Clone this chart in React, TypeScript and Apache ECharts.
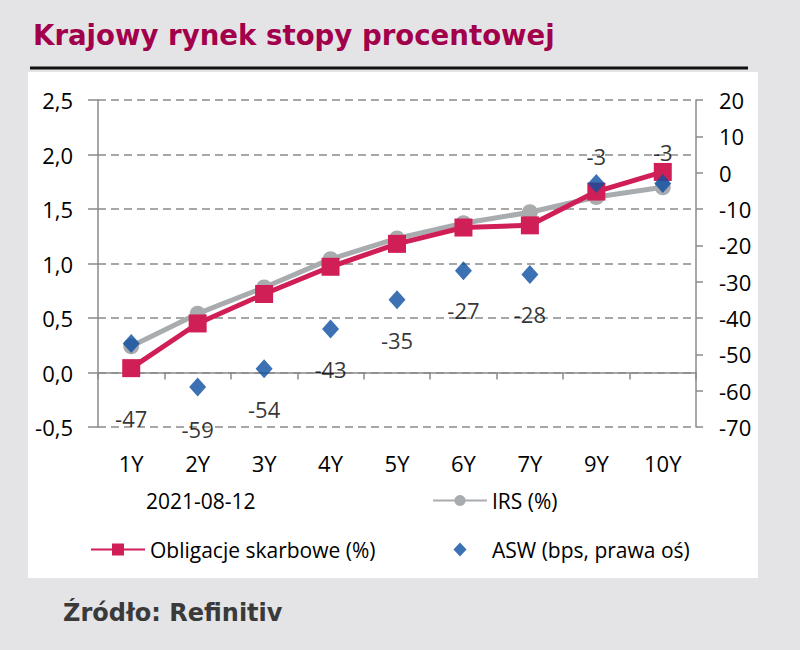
import React, { useEffect, useRef } from 'react';
import * as echarts from 'echarts';

const titleText = 'Krajowy rynek stopy procentowej';
const sourceText = 'Źródło: Refinitiv';
const dateLabel = '2021-08-12';
const categories = ['1Y', '2Y', '3Y', '4Y', '5Y', '6Y', '7Y', '9Y', '10Y'];
const irsName = 'IRS (%)';
const irs = [0.24, 0.54, 0.78, 1.04, 1.23, 1.37, 1.47, 1.61, 1.7];
const bondsName = 'Obligacje skarbowe (%)';
const bonds = [0.04, 0.45, 0.72, 0.97, 1.18, 1.33, 1.35, 1.66, 1.84];
const aswName = 'ASW (bps, prawa oś)';
const asw = [-47, -59, -54, -43, -35, -27, -28, -3, -3];

// label placement for ASW points (style only)
const aswLabelPos: Array<[string, number]> = [
  ['bottom', 54],
  ['bottom', 21],
  ['bottom', 20],
  ['bottom', 20],
  ['bottom', 20],
  ['bottom', 19],
  ['bottom', 19],
  ['top', 7],
  ['top', 11],
];

const FONT = '"Open Sans", "Noto Sans", sans-serif';
const RED = '#d01f57';
const GRAY = '#a9acae';
const BLUE = '#0b4ea1';
const AXIS = '#8a8a8a';

export default function App() {
  const ref = useRef<HTMLDivElement>(null);
  useEffect(() => {
    document.body.style.margin = '0';
    const chart = echarts.init(ref.current!, undefined, { renderer: 'svg' });
    const legendText = { color: '#000', fontSize: 21, fontFamily: FONT };
    chart.setOption({
      animation: false,
      backgroundColor: '#e4e4e6',
      title: [
        {
          text: titleText,
          left: 28,
          top: 16,
          textStyle: { color: '#a3004b', fontSize: 27.6, fontWeight: 'bold', fontFamily: '"DejaVu Sans", sans-serif' },
        },
        {
          text: sourceText,
          left: 58,
          top: 596,
          textStyle: { color: '#3a3a3a', fontSize: 24, fontWeight: 'bold', fontFamily: '"DejaVu Sans", sans-serif' },
        },
      ],
      graphic: [
        { type: 'rect', z: -10, shape: { x: 28, y: 72, width: 730, height: 506 }, style: { fill: '#ffffff' } },
        { type: 'line', z: -10, shape: { x1: 30, y1: 68, x2: 748, y2: 68 }, style: { stroke: '#111', lineWidth: 3 } },
      ],
      legend: [
        {
          data: [{ name: dateLabel, icon: 'none' }],
          left: 82, top: 485, itemWidth: 54, itemHeight: 14, itemGap: 0,
          textStyle: legendText, selectedMode: false,
        },
        {
          data: [irsName],
          left: 427, top: 485, itemWidth: 54, itemHeight: 14, itemGap: 0,
          textStyle: legendText, selectedMode: false,
        },
        {
          data: [bondsName],
          left: 85, top: 534, itemWidth: 54, itemHeight: 15, itemGap: 0,
          textStyle: legendText, selectedMode: false,
        },
        {
          data: [{ name: aswName, icon: 'path://M0,0M54,14M27,0L33.5,7L27,14L20.5,7Z' }],
          left: 428, top: 534, itemWidth: 54, itemHeight: 14, itemGap: 0,
          textStyle: legendText, selectedMode: false,
        },
      ],
      grid: { left: 98, right: 104, top: 100, bottom: 223, containLabel: false },
      xAxis: [
        {
          type: 'category',
          data: categories,
          boundaryGap: true,
          position: 'bottom',
          axisLine: { show: true, onZero: true, onZeroAxisIndex: 0, lineStyle: { color: AXIS, width: 1.5 } },
          axisTick: { show: true, inside: false, length: 7, lineStyle: { color: AXIS, width: 1.5 } },
          axisLabel: { show: false },
          splitLine: { show: false },
        },
        {
          type: 'category',
          data: categories,
          boundaryGap: true,
          position: 'bottom',
          axisLine: { show: false, onZero: false },
          axisTick: { show: false },
          axisLabel: { show: true, margin: 25, color: '#000', fontSize: 22, fontFamily: FONT },
          splitLine: { show: false },
        },
      ],
      yAxis: [
        {
          type: 'value',
          min: -0.5,
          max: 2.5,
          interval: 0.5,
          position: 'left',
          axisLine: { show: true, lineStyle: { color: AXIS, width: 1.5 } },
          axisTick: { show: true, length: 10, lineStyle: { color: AXIS, width: 1.5 } },
          axisLabel: {
            margin: 25,
            color: '#000',
            fontSize: 22,
            fontFamily: FONT,
            formatter: (v: number) => v.toFixed(1).replace('.', ','),
          },
          splitLine: { show: true, lineStyle: { color: AXIS, width: 1.5, type: [8, 5] } },
        },
        {
          type: 'value',
          min: -70,
          max: 20,
          interval: 10,
          position: 'right',
          axisLine: { show: true, lineStyle: { color: AXIS, width: 1.5 } },
          axisTick: { show: true, length: 7, lineStyle: { color: AXIS, width: 1.5 } },
          axisLabel: { margin: 23, color: '#000', fontSize: 22, fontFamily: FONT },
          splitLine: { show: false },
        },
      ],
      series: [
        {
          name: dateLabel,
          type: 'line',
          data: [],
        },
        {
          name: irsName,
          type: 'line',
          xAxisIndex: 0,
          yAxisIndex: 0,
          data: irs,
          symbol: 'circle',
          symbolSize: 16,
          lineStyle: { color: GRAY, width: 5 },
          itemStyle: { color: GRAY },
          z: 3,
        },
        {
          name: bondsName,
          type: 'line',
          xAxisIndex: 0,
          yAxisIndex: 0,
          data: bonds,
          symbol: 'rect',
          symbolSize: 18,
          lineStyle: { color: RED, width: 5 },
          itemStyle: { color: RED },
          z: 4,
        },
        {
          name: aswName,
          type: 'scatter',
          xAxisIndex: 0,
          yAxisIndex: 1,
          symbol: 'diamond',
          symbolSize: [17, 19],
          itemStyle: { color: BLUE },
          z: 5,
          data: asw.map((v, i) => ({
            value: v,
            label: {
              show: true,
              position: aswLabelPos[i][0],
              distance: aswLabelPos[i][1],
              formatter: (p: any) => String(p.value),
              color: '#000',
              fontSize: 22,
              fontFamily: FONT,
            },
          })),
        },
      ],
    });
    return () => chart.dispose();
  }, []);
  return <div ref={ref} style={{ width: 800, height: 650 }} />;
}
